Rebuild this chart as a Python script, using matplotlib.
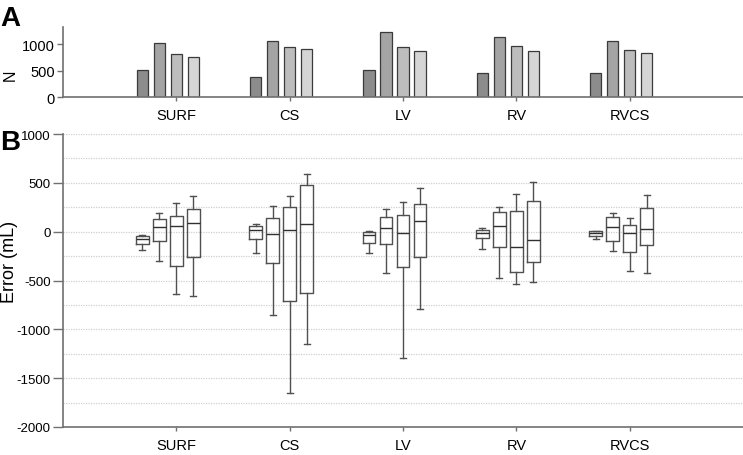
import numpy as np
import matplotlib
matplotlib.use("Agg")
import matplotlib.pyplot as plt

plt.rcParams['font.family'] = ['Liberation Sans', 'DejaVu Sans']
plt.rcParams['axes.unicode_minus'] = False

categories = ["SURF", "CS", "LV", "RV", "RVCS"]

# panel A: N per category, one row per series (4 series)
n_counts = [
    [507, 385, 507, 461, 450],
    [1019, 1070, 1228, 1133, 1070],
    [822, 956, 956, 962, 886],
    [753, 911, 873, 867, 841],
]

# panel B: box stats per series (rows) and category (columns)
whis_hi = [
    [-30, 83, 11, 36, 11],
    [189, 267, 230, 250, 195],
    [298, 369, 301, 383, 138],
    [363, 588, 445, 506, 376],
]
q3 = [
    [-40, 62, 1, 15, 5],
    [131, 138, 154, 202, 148],
    [161, 250, 175, 210, 73],
    [236, 475, 281, 315, 246],
]
median = [
    [-70, 15, -33, -16, -16],
    [52, -26, 35, 59, 46],
    [56, 18, -16, -156, -16],
    [93, 80, 110, -87, 25],
]
q1 = [
    [-125, -74, -118, -64, -46],
    [-97, -316, -125, -156, -91],
    [-353, -708, -357, -414, -210],
    [-261, -623, -261, -312, -132],
]
whis_lo = [
    [-183, -220, -214, -176, -74],
    [-302, -851, -422, -476, -200],
    [-643, -1656, -1294, -534, -404],
    [-657, -1148, -790, -517, -422],
]

bar_colors = ["#8c8c8c", "#a4a4a4", "#bdbdbd", "#d5d5d5"]
offsets = [-0.3, -0.15, 0.0, 0.15]
axis_col = "#707070"
box_col = "#505050"

fig = plt.figure(figsize=(7.43, 4.56), dpi=100)
axA = fig.add_axes([63/743, 1-98/456, 680/743, 70/456])
axB = fig.add_axes([63/743, 1-428/456, 680/743, 293/456])

x = np.arange(1, len(categories)+1)

# panel A bars
for i in range(4):
    axA.bar(x + offsets[i], n_counts[i], width=0.1, color=bar_colors[i],
            edgecolor="#3a3a3a", linewidth=0.9)
axA.set_xlim(0, 6)
axA.set_ylim(0, 1330)
axA.set_yticks([0, 500, 1000])
axA.set_xticks(x)
axA.set_xticklabels(categories, fontsize=10.5)
axA.set_ylabel("N", fontsize=11.5)
axA.yaxis.set_label_coords(-0.066, 0.33)
axA.tick_params(axis='y', labelsize=10.5, length=4, color=axis_col, width=1, pad=2)
axA.tick_params(axis='x', length=3, color=axis_col, width=1, pad=5)

# panel B boxes
for i in range(4):
    stats = []
    for j in range(len(categories)):
        stats.append({"whislo": whis_lo[i][j], "q1": q1[i][j], "med": median[i][j],
                      "q3": q3[i][j], "whishi": whis_hi[i][j], "fliers": []})
    axB.bxp(stats, positions=x + offsets[i], widths=0.11, showfliers=False,
            manage_ticks=False,
            boxprops=dict(color=box_col, linewidth=1),
            whiskerprops=dict(color=box_col, linewidth=1),
            capprops=dict(color=box_col, linewidth=1),
            medianprops=dict(color="#303030", linewidth=1))
axB.set_xlim(0, 6)
axB.set_ylim(-2000, 1000)
axB.set_yticks(np.arange(-2000, 1001, 500))
axB.set_yticks(np.arange(-2000, 1001, 250), minor=True)
axB.yaxis.grid(True, which='both', color="#d0d0d0", linestyle=(0, (1, 1)), linewidth=0.9)
axB.set_axisbelow(True)
axB.set_xticks(x)
axB.set_xticklabels(categories, fontsize=10.5)
axB.set_ylabel("Error (mL)", fontsize=13)
axB.yaxis.set_label_coords(-0.066, 0.567)
axB.tick_params(axis='y', which='major', labelsize=9.5, length=7, color=axis_col, width=1, pad=2)
axB.tick_params(axis='y', which='minor', length=0)
axB.tick_params(axis='x', length=3, color=axis_col, width=1, pad=5)

for ax in (axA, axB):
    for s in ("top", "right"):
        ax.spines[s].set_visible(False)
    for s in ("left", "bottom"):
        ax.spines[s].set_color(axis_col)
        ax.spines[s].set_linewidth(1.2)

fig.text(0.0, 1-26/456, "A", fontsize=20, fontweight="bold")
fig.text(0.0, 1-150/456, "B", fontsize=20, fontweight="bold")

fig.savefig("out.png", dpi=100)
